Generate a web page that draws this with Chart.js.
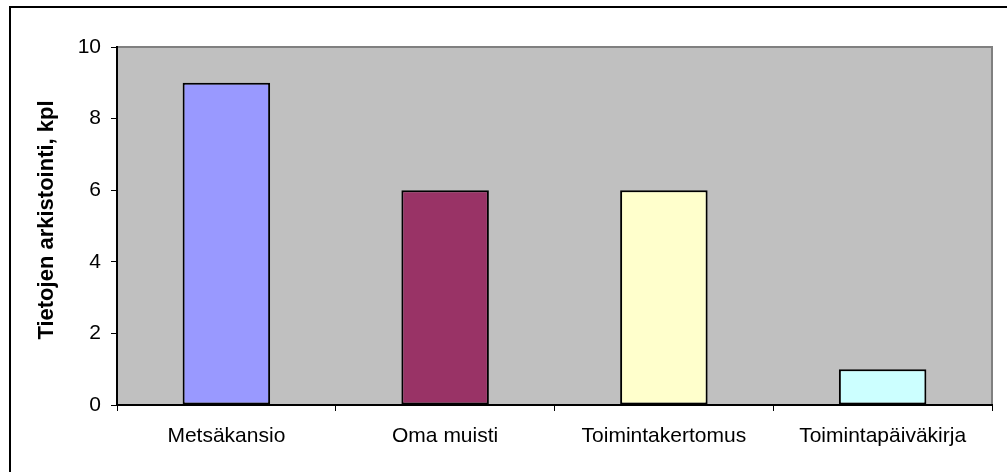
<!DOCTYPE html>
<html lang="fi">
<head>
    <meta charset="UTF-8">
    <title>Tietojen arkistointi</title>
    <style>
        html, body {
            margin: 0;
            padding: 0;
            background: #fff;
        }

        #wrap {
            position: relative;
            width: 1007px;
            height: 472px;
        }
    </style>
</head>
<body>
    <div id="wrap">
        <canvas id="chart" width="1007" height="472"></canvas>
    </div>
    <script src="https://cdn.jsdelivr.net/npm/chart.js"></script>
    <script>
        const categories = ['Metsäkansio', 'Oma muisti', 'Toimintakertomus', 'Toimintapäiväkirja'];
        const counts = [9, 6, 6, 1];
        const barColors = ['#9999FF', '#993366', '#FFFFCC', '#CCFFFF'];
        const yTitle = 'Tietojen arkistointi, kpl';

        const fontFamily = "Arial, 'Liberation Sans', sans-serif";

        // gray plot area, gray frame on top/right, and the outer chart frame
        const backdrop = {
            id: 'backdrop',
            beforeDraw(chart) {
                const { ctx, chartArea: a } = chart;
                ctx.save();
                ctx.fillStyle = '#C0C0C0';
                ctx.fillRect(a.left, a.top, a.right - a.left, a.bottom - a.top);
                ctx.strokeStyle = '#808080';
                ctx.lineWidth = 2;
                ctx.beginPath();
                ctx.moveTo(a.left, a.top);
                ctx.lineTo(a.right, a.top);
                ctx.lineTo(a.right, a.bottom);
                ctx.stroke();

                ctx.strokeStyle = '#000';
                ctx.lineWidth = 2;
                ctx.beginPath();
                ctx.moveTo(10, chart.height);
                ctx.lineTo(10, 7);
                ctx.lineTo(chart.width, 7);
                ctx.stroke();
                ctx.restore();
            },
            // y title sits a bit above the plot centre, like the original
            afterDraw(chart) {
                const ctx = chart.ctx;
                ctx.save();
                ctx.translate(47, 220);
                ctx.rotate(-Math.PI / 2);
                ctx.font = 'bold 22px ' + fontFamily;
                ctx.fillStyle = '#000';
                ctx.textAlign = 'center';
                ctx.textBaseline = 'middle';
                ctx.fillText(yTitle, 0, 0);
                ctx.restore();
            }
        };

        new Chart(document.getElementById('chart'), {
            type: 'bar',
            data: {
                labels: categories,
                datasets: [{
                    data: counts,
                    backgroundColor: barColors,
                    borderColor: '#000',
                    borderWidth: 2,
                    borderSkipped: false,
                    barPercentage: 0.4,
                    categoryPercentage: 1
                }]
            },
            options: {
                responsive: false,
                animation: false,
                devicePixelRatio: 1,
                layout: {
                    padding: { left: 0, top: 47, right: 15, bottom: 0 }
                },
                plugins: {
                    legend: { display: false },
                    tooltip: { enabled: false }
                },
                scales: {
                    x: {
                        grid: {
                            offset: true,
                            drawOnChartArea: false,
                            tickLength: 6,
                            color: '#000',
                            lineWidth: 1
                        },
                        border: { color: '#000', width: 2 },
                        ticks: {
                            color: '#000',
                            padding: 13,
                            maxRotation: 0,
                            font: { family: fontFamily, size: 21 }
                        },
                        afterFit(scale) {
                            scale.height = 67;
                        }
                    },
                    y: {
                        min: 0,
                        max: 10,
                        grid: {
                            drawOnChartArea: false,
                            tickLength: 6,
                            color: '#000',
                            lineWidth: 1
                        },
                        border: { color: '#000', width: 2 },
                        ticks: {
                            stepSize: 2,
                            color: '#000',
                            padding: 10,
                            font: { family: fontFamily, size: 21 }
                        },
                        afterFit(scale) {
                            scale.width = 117;
                        }
                    }
                }
            },
            plugins: [backdrop]
        });
    </script>
</body>
</html>
